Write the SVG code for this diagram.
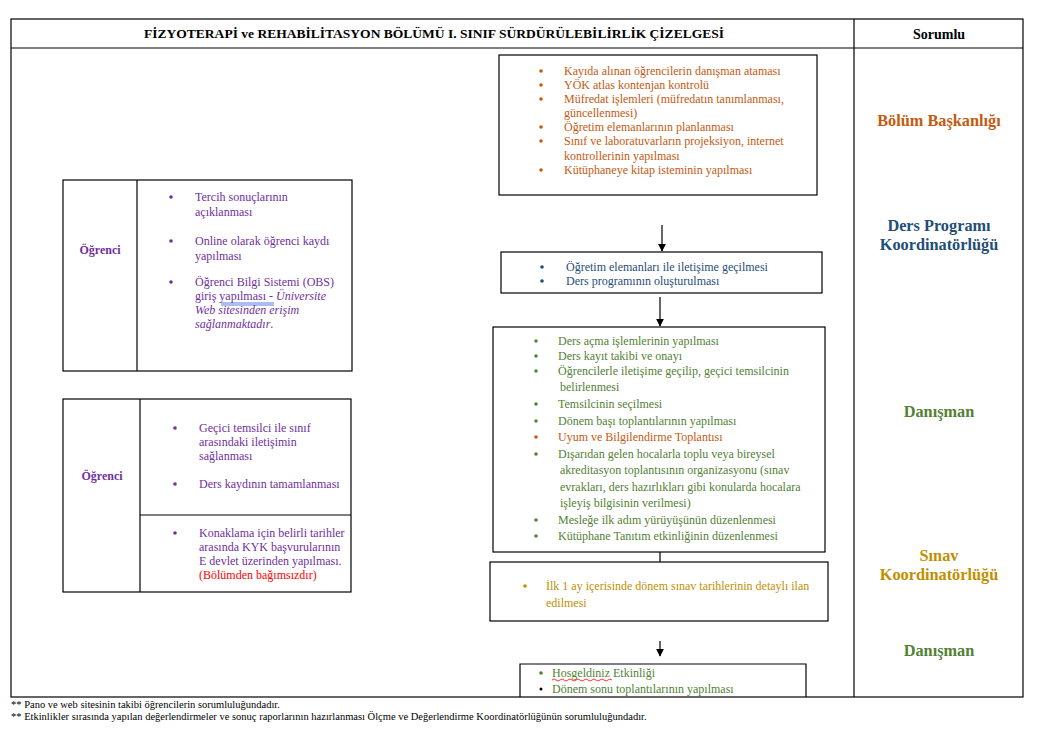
<svg xmlns="http://www.w3.org/2000/svg" width="1045" height="733" viewBox="0 0 1045 733">
<defs>
<style>
text{font-family:"Liberation Serif","Times New Roman",serif;font-size:12px}
.o{fill:#c55a11}.b{fill:#1f4e79}.g{fill:#538135}.p{fill:#7030a0}.y{fill:#bf8f00}.r{fill:#ff0000}.k{fill:#000}
.box{fill:#fff;stroke:#000;stroke-width:1.2}
.ln{stroke:#000;stroke-width:1.2;fill:none}
.hd{font-weight:bold;font-size:13.5px}
.rs{font-weight:bold;font-size:16.3px;text-anchor:middle}
.lb{font-weight:bold;font-size:12px;text-anchor:middle}
.ft{font-size:10.5px}
</style>
<marker id="ah" viewBox="0 0 10 10" refX="9" refY="5" markerWidth="8" markerHeight="8" markerUnits="userSpaceOnUse" orient="auto">
<path d="M0,0 L10,5 L0,10 z" fill="#000"/>
</marker>
</defs>
<rect width="1045" height="733" fill="#fff"/>

<g id="table">
<rect x="11" y="19" width="1012" height="678" class="box"/>
<line x1="11" y1="48" x2="1023" y2="48" class="ln"/>
<line x1="854" y1="19" x2="854" y2="697" class="ln"/>
<text x="434" y="38" class="hd" text-anchor="middle" textLength="580" lengthAdjust="spacingAndGlyphs">FİZYOTERAPİ ve REHABİLİTASYON BÖLÜMÜ I. SINIF SÜRDÜRÜLEBİLİRLİK ÇİZELGESİ</text>
<text x="939" y="39" class="lb" style="font-size:14px">Sorumlu</text>
</g>

<g id="sorumlu">
<text x="939" y="126" class="rs o">Bölüm Başkanlığı</text>
<text x="939" y="231" class="rs b">Ders Programı</text>
<text x="939" y="250" class="rs b">Koordinatörlüğü</text>
<text x="939" y="417" class="rs g">Danışman</text>
<text x="939" y="561" class="rs y">Sınav</text>
<text x="939" y="580" class="rs y">Koordinatörlüğü</text>
<text x="939" y="656" class="rs g">Danışman</text>
</g>

<g id="connectors">
<line x1="662" y1="225" x2="662" y2="251" class="ln" marker-end="url(#ah)"/>
<line x1="660" y1="297" x2="660" y2="326" class="ln" marker-end="url(#ah)"/>
<line x1="660" y1="552" x2="660" y2="573" class="ln" marker-end="url(#ah)"/>
<line x1="660" y1="641" x2="660" y2="656" class="ln" marker-end="url(#ah)"/>
</g>

<g id="bolum-baskanligi">
<rect x="499" y="55" width="318" height="140" class="box"/>
<g class="o">
<circle cx="541" cy="71" r="1.8"/><circle cx="541" cy="85" r="1.8"/><circle cx="541" cy="99" r="1.8"/>
<circle cx="541" cy="127" r="1.8"/><circle cx="541" cy="141" r="1.8"/><circle cx="541" cy="170" r="1.8"/>
</g>
<text x="564" y="75" class="o">Kayıda alınan öğrencilerin danışman ataması</text>
<text x="564" y="89" class="o">YÖK atlas kontenjan kontrolü</text>
<text x="564" y="103" class="o">Müfredat işlemleri (müfredatın tanımlanması,</text>
<text x="564" y="117" class="o">güncellenmesi)</text>
<text x="564" y="131" class="o">Öğretim elemanlarının planlanması</text>
<text x="564" y="145" class="o">Sınıf ve laboratuvarların projeksiyon, internet</text>
<text x="564" y="160" class="o">kontrollerinin yapılması</text>
<text x="564" y="174" class="o">Kütüphaneye kitap isteminin yapılması</text>
</g>

<g id="ders-programi">
<rect x="501" y="252" width="321" height="41" class="box"/>
<g class="b"><circle cx="542" cy="267" r="1.8"/><circle cx="542" cy="281" r="1.8"/></g>
<text x="566" y="271" class="b">Öğretim elemanları ile iletişime geçilmesi</text>
<text x="566" y="285" class="b">Ders programının oluşturulması</text>
</g>

<g id="danisman">
<rect x="493" y="327" width="332" height="225" class="box"/>
<g class="g">
<circle cx="536" cy="341" r="1.8"/><circle cx="536" cy="356" r="1.8"/><circle cx="536" cy="371" r="1.8"/>
<circle cx="536" cy="404" r="1.8"/><circle cx="536" cy="421" r="1.8"/>
<circle cx="536" cy="454" r="1.8"/><circle cx="536" cy="520" r="1.8"/><circle cx="536" cy="536" r="1.8"/>
</g>
<circle cx="536" cy="437" r="1.8" class="o"/>
<text x="558" y="345" class="g">Ders açma işlemlerinin yapılması</text>
<text x="558" y="360" class="g">Ders kayıt takibi ve onayı</text>
<text x="558" y="375" class="g">Öğrencilerle iletişime geçilip, geçici temsilcinin</text>
<text x="560" y="391" class="g">belirlenmesi</text>
<text x="558" y="408" class="g">Temsilcinin seçilmesi</text>
<text x="558" y="425" class="g">Dönem başı toplantılarının yapılması</text>
<text x="558" y="441" class="o">Uyum ve Bilgilendirme Toplantısı</text>
<text x="558" y="458" class="g">Dışarıdan gelen hocalarla toplu veya bireysel</text>
<text x="560" y="474" class="g">akreditasyon toplantısının organizasyonu (sınav</text>
<text x="560" y="491" class="g">evrakları, ders hazırlıkları gibi konularda hocalara</text>
<text x="560" y="507" class="g">işleyiş bilgisinin verilmesi)</text>
<text x="558" y="524" class="g">Mesleğe ilk adım yürüyüşünün düzenlenmesi</text>
<text x="558" y="540" class="g">Kütüphane Tanıtım etkinliğinin düzenlenmesi</text>
</g>

<g id="sinav">
<rect x="490" y="562" width="338" height="59" class="box"/>
<circle cx="525" cy="586" r="1.8" class="y"/>
<text x="546" y="590" class="y">İlk 1 ay içerisinde dönem sınav tarihlerinin detaylı ilan</text>
<text x="546" y="607" class="y">edilmesi</text>
</g>

<g id="danisman-2">
<path d="M520,697 V664 H806 V697" class="ln"/>
<circle cx="541" cy="673" r="1.8" class="g"/>
<circle cx="541" cy="689" r="1.5" class="k"/>
<text x="552" y="677" class="g">Hosgeldiniz Etkinliği</text>
<path d="M552,680 q2,-2 4,0 t4,0 t4,0 t4,0 t4,0 t4,0 t4,0 t4,0 t4,0 t4,0 t4,0 t4,0 t4,0 t4,0 t4,0" fill="none" stroke="#ff0000" stroke-width="0.8"/>
<text x="552" y="693" class="g">Dönem sonu toplantılarının yapılması</text>
</g>

<g id="ogrenci-1">
<rect x="63" y="180" width="289" height="191" class="box"/>
<line x1="137" y1="180" x2="137" y2="371" class="ln"/>
<text x="100" y="254" class="lb p">Öğrenci</text>
<g class="p"><circle cx="171" cy="197" r="1.8"/><circle cx="171" cy="241" r="1.8"/><circle cx="171" cy="282" r="1.8"/></g>
<text x="195" y="201" class="p">Tercih sonuçlarının</text>
<text x="195" y="216" class="p">açıklanması</text>
<text x="195" y="245" class="p">Online olarak öğrenci kaydı</text>
<text x="195" y="260" class="p">yapılması</text>
<text x="195" y="286" class="p">Öğrenci Bilgi Sistemi (OBS)</text>
<text x="195" y="300" class="p">giriş yapılması - <tspan font-style="italic">Üniversite</tspan></text>
<line x1="221" y1="303" x2="274" y2="303" stroke="#2e5bd6" stroke-width="0.8"/>
<line x1="221" y1="305" x2="274" y2="305" stroke="#2e5bd6" stroke-width="0.8"/>
<text x="195" y="314" class="p" font-style="italic">Web sitesinden erişim</text>
<text x="195" y="328" class="p"><tspan font-style="italic">sağlanmaktadır</tspan>.</text>
</g>

<g id="ogrenci-2">
<rect x="63" y="399" width="288" height="193" class="box"/>
<line x1="140" y1="399" x2="140" y2="592" class="ln"/>
<line x1="140" y1="515" x2="351" y2="515" class="ln"/>
<text x="102" y="480" class="lb p">Öğrenci</text>
<g class="p"><circle cx="175" cy="428" r="1.8"/><circle cx="175" cy="484" r="1.8"/><circle cx="175" cy="533" r="1.8"/></g>
<text x="199" y="432" class="p">Geçici temsilci ile sınıf</text>
<text x="199" y="446" class="p">arasındaki iletişimin</text>
<text x="199" y="460" class="p">sağlanması</text>
<text x="199" y="488" class="p">Ders kaydının tamamlanması</text>
<text x="199" y="537" class="p">Konaklama için belirli tarihler</text>
<text x="199" y="551" class="p">arasında KYK başvurularının</text>
<text x="199" y="565" class="p">E devlet üzerinden yapılması.</text>
<text x="199" y="579" class="r">(Bölümden bağımsızdır)</text>
</g>

<g id="notes">
<text x="11" y="708" class="ft">** Pano ve web sitesinin takibi öğrencilerin sorumluluğundadır.</text>
<text x="11" y="720" class="ft">** Etkinlikler sırasında yapılan değerlendirmeler ve sonuç raporlarının hazırlanması Ölçme ve Değerlendirme Koordinatörlüğünün sorumluluğundadır.</text>
</g>
</svg>
